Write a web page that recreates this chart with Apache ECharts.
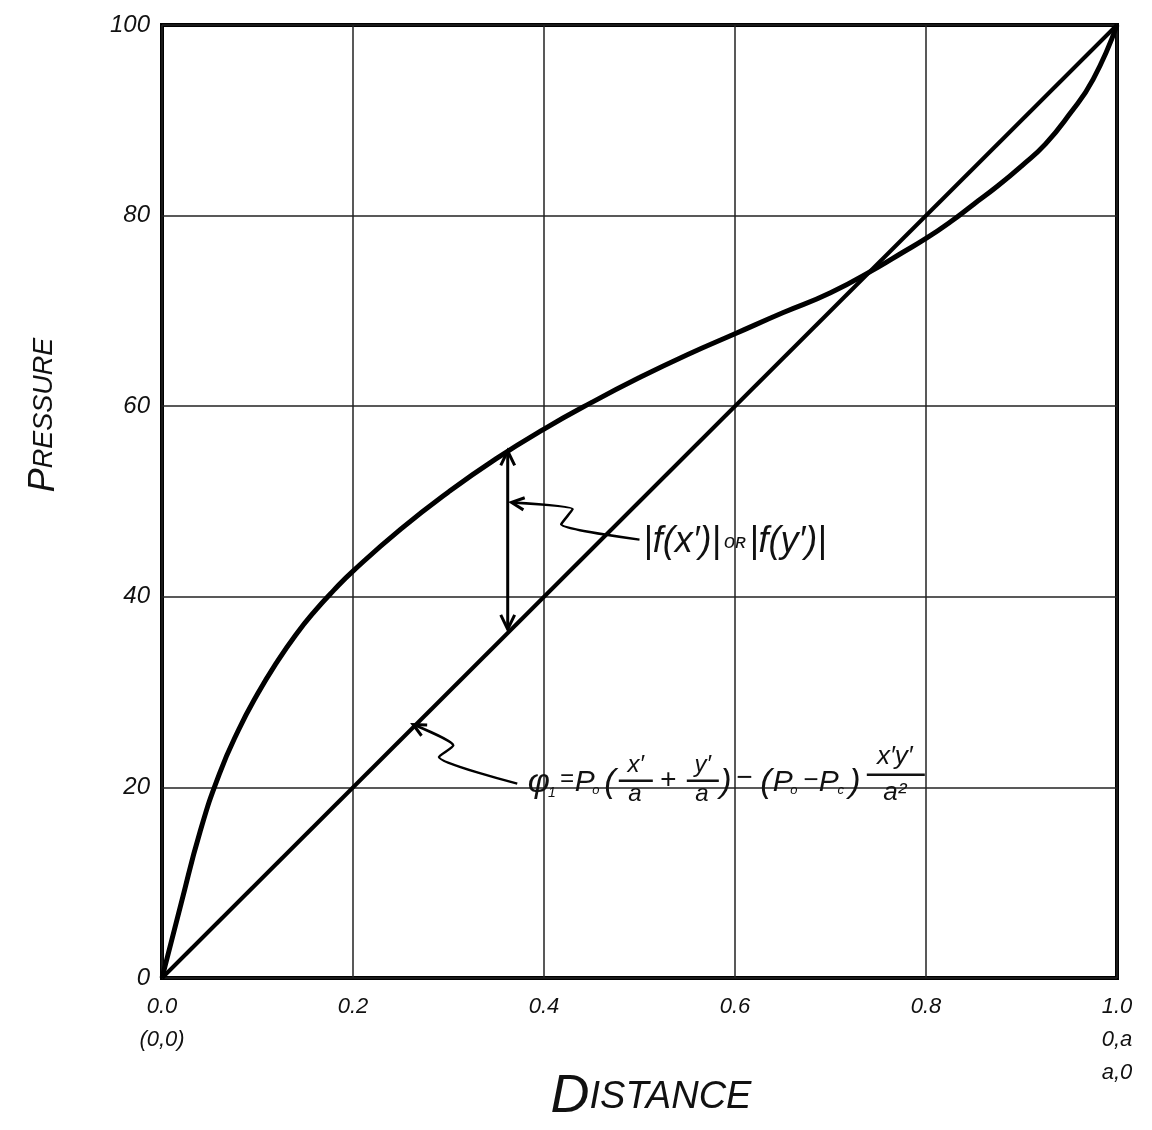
<!DOCTYPE html>
<html>
<head>
<meta charset="utf-8">
<script src="https://cdn.jsdelivr.net/npm/echarts@6/dist/echarts.min.js"></script>
<style>
    html, body { margin: 0; padding: 0; background: #fff; }
    #chart { width: 1152px; height: 1130px; }
</style>
</head>
<body>
<div id="chart"></div>
<script>
// 坐标轴刻度
var xTicks = ['0.0', '0.2', '0.4', '0.6', '0.8', '1.0'];
var xTickNotes = [['(0,0)'], [], [], [], [], ['0,a', 'a,0']];
var yTicks = [0, 20, 40, 60, 80, 100];

// 上面的曲线 |f|
var upperX = [0, 0.02, 0.04, 0.06, 0.08, 0.10, 0.12, 0.14, 0.16, 0.18, 0.20, 0.25, 0.30, 0.35, 0.40,
    0.45, 0.50, 0.55, 0.60, 0.65, 0.70, 0.75, 0.775, 0.80, 0.825, 0.85, 0.875, 0.90, 0.925, 0.95, 0.975, 1];
var upperY = [0, 7.8, 15.4, 21.4, 26.0, 29.8, 33.1, 36.0, 38.5, 40.7, 42.7, 47.1, 51.0, 54.5, 57.6,
    60.4, 63.0, 65.4, 67.6, 69.8, 71.9, 74.6, 76.1, 77.6, 79.3, 81.2, 83.1, 85.2, 87.5, 90.6, 94.3, 100];

// 直线 φ1
var lineX = [0, 1];
var lineY = [0, 100];

// 双箭头 (x, 下端, 上端)
var gapX = 0.362;
var gapY = [36.6, 55.3];

// 引线
var leader1X = [0.366, 0.43, 0.418, 0.5];
var leader1Y = [49.9, 49.2, 47.6, 46.0];
var leader2X = [0.263, 0.305, 0.29, 0.372];
var leader2Y = [26.6, 24.4, 23.2, 20.4];

var FONT = '"Liberation Sans", "DejaVu Sans", sans-serif';
var INK = '#111';

function pairs(xs, ys) {
    return xs.map(function (x, i) { return [x, ys[i]]; });
}

var chart = echarts.init(document.getElementById('chart'));

var option = {
    animation: false,
    backgroundColor: '#fff',
    grid: {
        left: 162, right: 35, top: 25, bottom: 152,
        show: true, borderColor: '#000', borderWidth: 4
    },
    xAxis: {
        type: 'value', min: 0, max: 1, interval: 0.2,
        axisLine: { show: false },
        axisTick: { show: false },
        splitLine: { lineStyle: { color: '#222', width: 1.5 } },
        axisLabel: {
            margin: 12,
            color: INK,
            fontFamily: FONT,
            fontStyle: 'italic',
            fontSize: 22,
            lineHeight: 33,
            formatter: function (v) {
                var i = Math.round(v / 0.2);
                return [xTicks[i]].concat(xTickNotes[i]).join('\n');
            }
        }
    },
    yAxis: {
        type: 'value', min: 0, max: 100, interval: 20,
        axisLine: { show: false },
        axisTick: { show: false },
        splitLine: { lineStyle: { color: '#222', width: 1.5 } },
        axisLabel: {
            margin: 12,
            color: INK,
            fontFamily: FONT,
            fontStyle: 'italic',
            fontSize: 24,
            formatter: function (v) {
                return String(yTicks[Math.round(v / 20)]);
            }
        }
    },
    series: [
        {
            name: 'f',
            type: 'line',
            data: pairs(upperX, upperY),
            smooth: 0.5,
            showSymbol: false,
            lineStyle: { color: '#000', width: 5 }
        },
        {
            name: 'phi',
            type: 'line',
            data: pairs(lineX, lineY),
            showSymbol: false,
            lineStyle: { color: '#000', width: 4 }
        },
        {
            name: 'gap',
            type: 'line',
            data: [[gapX, gapY[0]], [gapX, gapY[1]]],
            showSymbol: false,
            lineStyle: { color: '#000', width: 3 }
        },
        {
            name: 'leader1',
            type: 'line',
            data: pairs(leader1X, leader1Y),
            smooth: 0.2,
            showSymbol: false,
            lineStyle: { color: '#000', width: 2.5 }
        },
        {
            name: 'leader2',
            type: 'line',
            data: pairs(leader2X, leader2Y),
            smooth: 0.2,
            showSymbol: false,
            lineStyle: { color: '#000', width: 2.5 }
        }
    ]
};
chart.setOption(option);

// 箭头头部
function arrowHead(tip, from, len) {
    var a = Math.atan2(tip[1] - from[1], tip[0] - from[0]);
    var s = 0.45;
    return {
        type: 'polyline',
        shape: {
            points: [
                [tip[0] - len * Math.cos(a - s), tip[1] - len * Math.sin(a - s)],
                tip,
                [tip[0] - len * Math.cos(a + s), tip[1] - len * Math.sin(a + s)]
            ]
        },
        style: { stroke: '#000', lineWidth: 3, fill: null },
        z: 10
    };
}

function px(x, y) {
    return chart.convertToPixel({ gridIndex: 0 }, [x, y]);
}

var gTop = px(gapX, gapY[1]), gBot = px(gapX, gapY[0]);
var l1a = px(leader1X[0], leader1Y[0]), l1b = px(leader1X[1], leader1Y[1]);
var l2a = px(leader2X[0], leader2Y[0]), l2b = px(leader2X[1], leader2Y[1]);

// 公式 φ1 = P0(x'/a + y'/a) - (P0 - Pc) x'y'/a²
var fAnchor = px(0.382, 20.5);
var formulaParts = [
    ['φ', 12, 0, 34], ['1', 25, 10, 14], ['=', 40, -3, 24],
    ['P', 58, 0, 30], ['o', 69, 8, 13], ['(', 83, 0, 34],
    ['x′', 109, -17, 24], ['a', 108, 12, 24],
    ['+', 141, -2, 28],
    ['y′', 176, -17, 24], ['a', 175, 12, 24],
    [')', 199, 0, 34], ['−', 217, -4, 28], ['(', 239, 0, 34],
    ['P', 256, 0, 30], ['o', 267, 8, 13], ['−', 284, -2, 26],
    ['P', 302, 0, 30], ['c', 314, 8, 13], [')', 328, 0, 34],
    ['x′y′', 368, -26, 26], ['a²', 368, 10, 26]
];
var formulaBars = [[92, 126, -2], [160, 192, -2], [340, 398, -8]];

var formula = formulaParts.map(function (p) {
    return {
        type: 'text',
        x: fAnchor[0] + p[1], y: fAnchor[1] + p[2],
        style: {
            text: p[0], fill: INK, align: 'center', verticalAlign: 'middle',
            font: 'italic ' + p[3] + 'px ' + FONT
        }
    };
}).concat(formulaBars.map(function (b) {
    return {
        type: 'line',
        shape: { x1: fAnchor[0] + b[0], y1: fAnchor[1] + b[2], x2: fAnchor[0] + b[1], y2: fAnchor[1] + b[2] },
        style: { stroke: INK, lineWidth: 2.5 }
    };
}));

var fLabel = px(0.504, 45.7);

chart.setOption({
    graphic: [
        arrowHead(gTop, gBot, 16),
        arrowHead(gBot, gTop, 16),
        arrowHead(l1a, l1b, 14),
        arrowHead(l2a, l2b, 14),
        {
            type: 'text',
            x: fLabel[0], y: fLabel[1],
            style: {
                text: '{m||f(x′)|} {s|oʀ} {m||f(y′)|}',
                align: 'left', verticalAlign: 'middle',
                rich: {
                    m: { fontFamily: FONT, fontStyle: 'italic', fontSize: 36, fill: INK },
                    s: { fontFamily: FONT, fontStyle: 'italic', fontSize: 20, fill: INK }
                }
            }
        },
        {
            type: 'text',
            x: 44, y: 415,
            rotation: Math.PI / 2,
            style: {
                text: '{b|P}{s|RESSURE}',
                align: 'center', verticalAlign: 'middle',
                rich: {
                    b: { fontFamily: FONT, fontStyle: 'italic', fontSize: 36, fill: INK },
                    s: { fontFamily: FONT, fontStyle: 'italic', fontSize: 27, fill: INK }
                }
            }
        },
        {
            type: 'text',
            x: 651, y: 1097,
            style: {
                text: '{b|D}{s|ISTANCE}',
                align: 'center', verticalAlign: 'middle',
                rich: {
                    b: { fontFamily: FONT, fontStyle: 'italic', fontSize: 54, fill: INK },
                    s: { fontFamily: FONT, fontStyle: 'italic', fontSize: 38, fill: INK }
                }
            }
        }
    ].concat(formula)
});
</script>
</body>
</html>
